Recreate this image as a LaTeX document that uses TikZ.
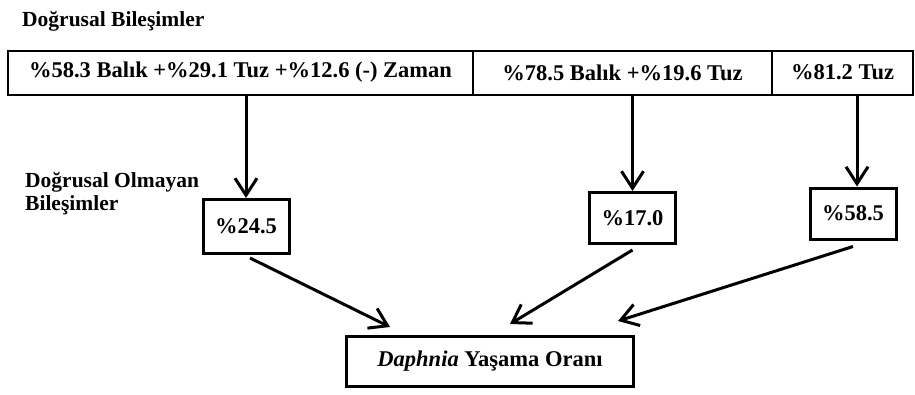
\documentclass[tikz,border=0pt]{standalone}
\usepackage{fontspec}
\setmainfont{Liberation Serif}
\usetikzlibrary{arrows.meta}

\begin{document}
\begin{tikzpicture}[x=1pt,y=-1pt]
\tikzstyle{every node}=[inner sep=0pt, font=\fontsize{22.5}{25}\selectfont\bfseries]
\tikzstyle{label}=[font=\fontsize{21.5}{23}\selectfont\bfseries]
\tikzstyle{topbox}=[draw, line width=2pt, minimum height=44pt]
\tikzstyle{valbox}=[draw, line width=3pt, minimum width=86pt, minimum height=51pt]
\tikzstyle{link}=[line width=3pt, -{Straight Barb[length=17pt,width=22pt]}]
\useasboundingbox (0,0) rectangle (915,394);
% linear combinations
\draw (22,26) node (lin) [label, anchor=base west] {Doğrusal Bileşimler};
\draw (240.5,72.5) node (b1) [topbox, minimum width=465pt] {\%58.3 Balık +\%29.1 Tuz +\%12.6 (-) Zaman};
\draw (622.5,72.5) node (b2) [topbox, minimum width=299pt] {\%78.5 Balık +\%19.6 Tuz};
\draw (842.5,72.5) node (b3) [topbox, minimum width=141pt] {\%81.2 Tuz};
% nonlinear combinations
\draw (25,194) node (nonlin) [label, anchor=west, align=left] {Doğrusal Olmayan\\Bileşimler};
\draw (246,226.5) node (m1) [valbox, minimum height=54pt] {\%24.5};
\draw (632.5,218) node (m2) [valbox] {\%17.0};
\draw (853,213.5) node (m3) [valbox] {\%58.5};
% response
\draw (490,361.5) node (res) [valbox, minimum width=287pt, minimum height=50pt] {\textit{Daphnia} Yaşama Oranı};
\draw[link] (m1.north |- b1.south) -- (m1.north);
\draw[link] (m2.north |- b2.south) -- (m2.north);
\draw[link] ([xshift=4pt]m3.north |- b3.south) -- ([xshift=4pt]m3.north);
\draw[link] ([xshift=4pt,yshift=-3pt]m1.south) -- ([xshift=-100pt,yshift=8pt]res.north);
\draw[link] ([yshift=-5pt]m2.south) -- ([xshift=20pt,yshift=11pt]res.north);
\draw[link] ([yshift=-6pt]m3.south) -- ([xshift=128pt,yshift=14pt]res.north);
\end{tikzpicture}
\end{document}
